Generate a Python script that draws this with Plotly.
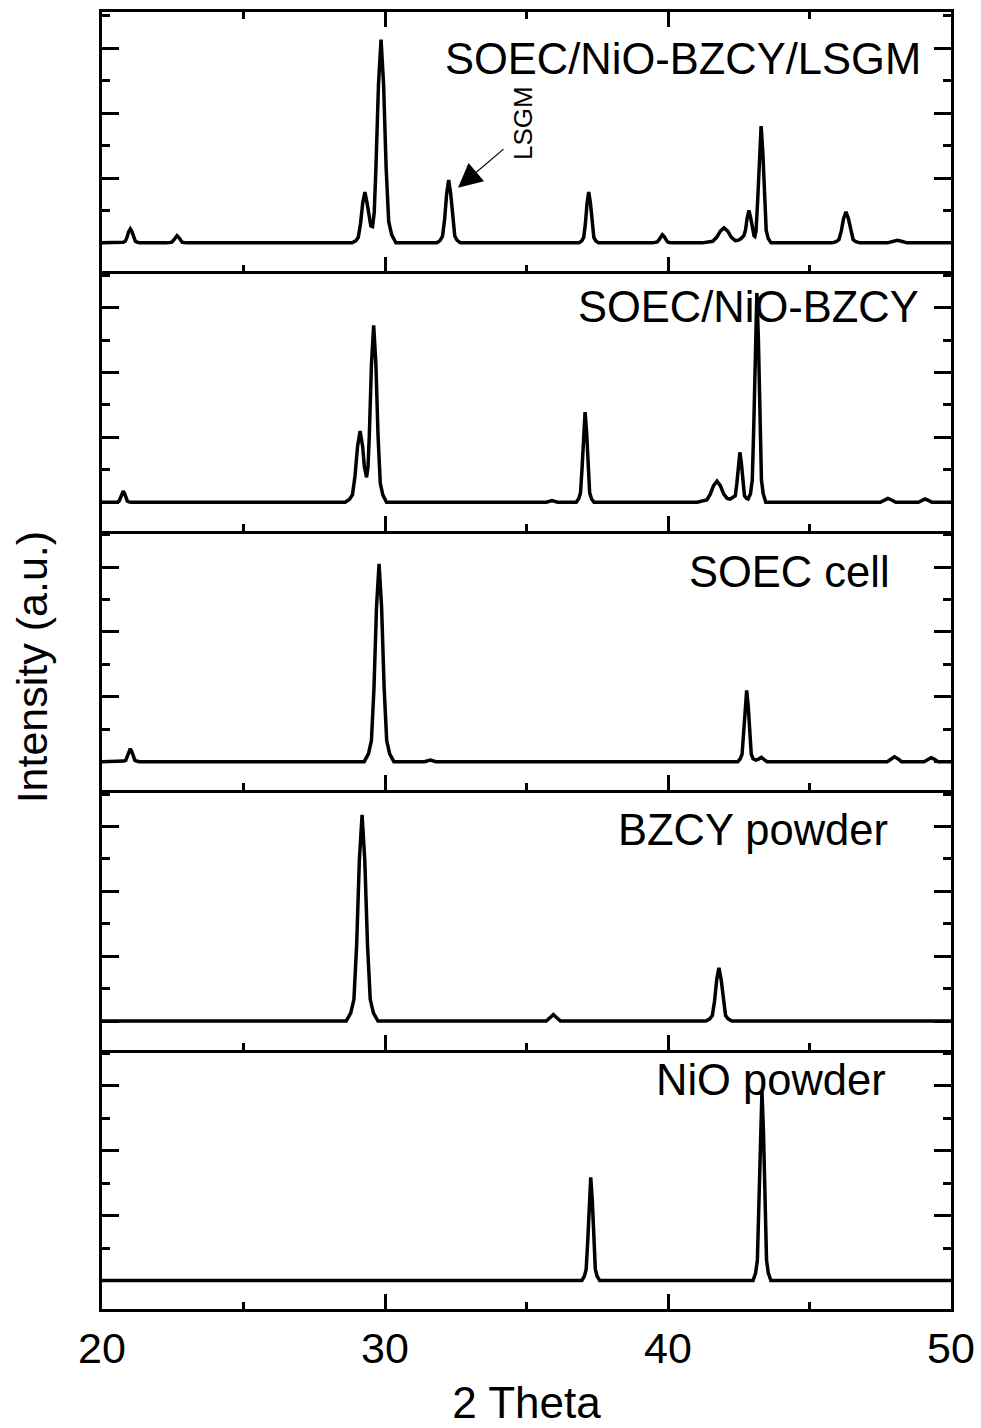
import plotly.graph_objects as go
from plotly.subplots import make_subplots

# ---------------- data (2 Theta, normalized intensity; baseline = 0) ----------------
lsgm_x = [20.0,
          20.65, 20.75, 20.82, 20.88, 20.94, 21.0, 21.06, 21.12, 21.18, 21.25, 21.35,
          22.3, 22.4, 22.47, 22.53, 22.59, 22.65, 22.71, 22.77, 22.83, 22.9, 23.0,
          28.835, 28.965, 29.056, 29.134, 29.212, 29.29, 29.368, 29.446, 29.5, 29.56,
          29.62, 29.68, 29.77, 29.86, 29.95, 30.04, 30.13, 30.235, 30.385,
          31.83, 31.95, 32.034, 32.106, 32.178, 32.25, 32.322, 32.394, 32.466, 32.55, 32.67,
          36.85, 36.95, 37.02, 37.08, 37.14, 37.2, 37.26, 37.32, 37.38, 37.45, 37.55,
          39.45, 39.55, 39.62, 39.68, 39.74, 39.8, 39.86, 39.92, 39.98, 40.05, 40.15,
          41.21, 41.43, 41.58, 41.72, 41.85, 41.98, 42.11, 42.24, 42.38, 42.47,
          42.56, 42.68, 42.74, 42.8, 42.86, 42.92, 42.98, 43.04, 43.07, 43.11, 43.17,
          43.23, 43.29, 43.35, 43.41, 43.47, 43.54, 43.64,
          45.8, 45.94, 46.038, 46.122, 46.206, 46.29, 46.374, 46.458, 46.542, 46.64, 46.78,
          47.75, 47.95, 48.1, 48.25, 48.45, 50.0]
lsgm_y = [0,
          0, 0.02, 0.05, 0.16, 0.34, 0.43, 0.34, 0.16, 0.05, 0.02, 0,
          0, 0.01, 0.02, 0.08, 0.17, 0.22, 0.17, 0.08, 0.02, 0.01, 0,
          0, 0.06, 0.17, 0.58, 1.22, 1.57, 1.22, 0.7, 0.52, 0.5,
          0.95, 2.32, 4.89, 6.27, 4.89, 2.32, 0.66, 0.25, 0,
          0, 0.08, 0.21, 0.72, 1.51, 1.94, 1.51, 0.72, 0.21, 0.08, 0,
          0, 0.06, 0.17, 0.58, 1.22, 1.57, 1.22, 0.58, 0.17, 0.06, 0,
          0, 0.01, 0.03, 0.09, 0.2, 0.25, 0.2, 0.09, 0.03, 0.01, 0,
          0, 0.02, 0.05, 0.17, 0.36, 0.46, 0.36, 0.17, 0.07, 0.08,
          0.12, 0.22, 0.4, 0.78, 1.0, 0.78, 0.42, 0.22, 0.2, 0.35, 1.33,
          2.81, 3.6, 2.81, 1.33, 0.38, 0.14, 0,
          0, 0.04, 0.1, 0.36, 0.75, 0.96, 0.75, 0.36, 0.1, 0.04, 0,
          0, 0.05, 0.08, 0.05, 0, 0]

nibzcy_x = [20.0,
            20.47, 20.55, 20.606, 20.654, 20.702, 20.75, 20.798, 20.846, 20.894, 20.95, 21.03,
            28.595, 28.745, 28.85, 28.94, 29.03, 29.12, 29.21, 29.27, 29.35,
            29.4, 29.444, 29.522, 29.6, 29.678, 29.756, 29.834, 29.925, 30.055,
            35.7, 35.9, 36.1,
            36.755, 36.845, 36.908, 36.962, 37.016, 37.07, 37.124, 37.178, 37.232, 37.295, 37.385,
            41.03, 41.23, 41.37, 41.49, 41.61, 41.73, 41.85, 41.97, 42.09, 42.2,
            42.3, 42.378, 42.432, 42.486, 42.54, 42.594, 42.648, 42.702, 42.77, 42.83,
            42.915, 42.978, 43.032, 43.086, 43.14, 43.194, 43.248, 43.302, 43.365, 43.455,
            47.5, 47.65, 47.77, 47.9, 48.05,
            48.85, 48.97, 49.08, 49.2, 49.32, 50.0]
nibzcy_y = [0,
            0, 0.01, 0.04, 0.13, 0.27, 0.34, 0.27, 0.13, 0.04, 0.01, 0,
            0, 0.09, 0.23, 0.81, 1.72, 2.2, 1.72, 1.1, 0.77,
            1.1, 2.02, 4.26, 5.46, 4.26, 2.02, 0.58, 0.22, 0,
            0, 0.05, 0,
            0, 0.11, 0.29, 1.03, 2.17, 2.78, 2.17, 1.03, 0.29, 0.11, 0,
            0, 0.03, 0.07, 0.24, 0.51, 0.65, 0.51, 0.25, 0.12, 0.1,
            0.14, 0.2, 0.58, 1.2, 1.54, 1.2, 0.58, 0.2, 0.12, 0.1,
            0.26, 0.68, 2.39, 5.03, 6.45, 5.03, 2.39, 0.68, 0.26, 0,
            0, 0.07, 0.12, 0.07, 0,
            0, 0.06, 0.1, 0.06, 0, 0]

cell_x = [20.0,
          20.685, 20.775, 20.838, 20.892, 20.946, 21.0, 21.054, 21.108, 21.162, 21.225, 21.315,
          29.265, 29.415, 29.52, 29.61, 29.7, 29.79, 29.88, 29.97, 30.06, 30.165, 30.315,
          31.4, 31.6, 31.8,
          42.465, 42.555, 42.618, 42.672, 42.726, 42.78, 42.834, 42.888, 42.942, 43.005,
          43.1, 43.2, 43.3, 43.4, 43.5,
          47.75, 47.88, 48.0, 48.12, 48.25,
          49.05, 49.18, 49.3, 49.42, 49.55, 50.0]
cell_y = [0,
          0, 0.02, 0.04, 0.15, 0.31, 0.4, 0.31, 0.15, 0.04, 0.02, 0,
          0, 0.24, 0.65, 2.26, 4.76, 6.1, 4.76, 2.26, 0.65, 0.24, 0,
          0, 0.05, 0,
          0, 0.09, 0.23, 0.81, 1.72, 2.2, 1.72, 0.81, 0.23, 0.09,
          0.05, 0.08, 0.13, 0.06, 0,
          0, 0.09, 0.15, 0.09, 0,
          0, 0.07, 0.12, 0.07, 0, 0]

bzcy_x = [20.0,
          28.63, 28.79, 28.902, 28.998, 29.094, 29.19, 29.286, 29.382, 29.478, 29.59, 29.75,
          35.7, 35.83, 35.95, 36.07, 36.2,
          41.345, 41.475, 41.566, 41.644, 41.722, 41.8, 41.878, 41.956, 42.034, 42.125, 42.255,
          50.0]
bzcy_y = [0,
          0, 0.25, 0.67, 2.35, 4.96, 6.36, 4.96, 2.35, 0.67, 0.25, 0,
          0, 0.1, 0.2, 0.1, 0,
          0, 0.07, 0.17, 0.61, 1.28, 1.64, 1.28, 0.61, 0.17, 0.07, 0,
          0]

nio_x = [20.0,
         36.955, 37.045, 37.108, 37.162, 37.216, 37.27, 37.324, 37.378, 37.432, 37.495, 37.585,
         43.005, 43.095, 43.158, 43.212, 43.266, 43.32, 43.374, 43.428, 43.482, 43.545, 43.635,
         50.0]
nio_y = [0,
         0, 0.13, 0.34, 1.18, 2.48, 3.18, 2.48, 1.18, 0.34, 0.13, 0,
         0, 0.23, 0.62, 2.17, 4.57, 5.86, 4.57, 2.17, 0.62, 0.23, 0,
         0]

series = [
    ("SOEC/NiO-BZCY/LSGM", lsgm_x, lsgm_y),
    ("SOEC/NiO-BZCY", nibzcy_x, nibzcy_y),
    ("SOEC cell", cell_x, cell_y),
    ("BZCY powder", bzcy_x, bzcy_y),
    ("NiO powder", nio_x, nio_y),
]
label_x = [49.0, 48.95, 47.9, 47.83, 47.78]
label_y = [5.66, 6.02, 5.86, 5.9, 6.17]
x_ticks = [20, 30, 40, 50]
x_minor = [25, 35, 45]

FONT = "Liberation Sans, Arial, sans-serif"

fig = make_subplots(rows=5, cols=1, shared_xaxes=True, vertical_spacing=0)

for i, (name, xs, ys) in enumerate(series, start=1):
    fig.add_trace(go.Scatter(x=xs, y=ys, mode="lines", name=name,
                             line=dict(color="black", width=3.5),
                             showlegend=False), row=i, col=1)
    fig.update_xaxes(range=[20, 50], showline=True, linewidth=2.5, linecolor="black",
                     mirror="allticks" if i == 1 else False, automargin=False,
                     ticks="inside", ticklen=15, tickwidth=2.5, tickcolor="black",
                     tickvals=x_ticks, ticktext=[str(v) for v in x_ticks],
                     minor=dict(tickvals=x_minor, ticks="inside", ticklen=7,
                                tickwidth=2.5, tickcolor="black"),
                     showgrid=False, zeroline=False, row=i, col=1)
    fig.update_yaxes(range=[-0.88, 7.12], showline=True, linewidth=2.5, linecolor="black",
                     mirror="allticks", ticks="inside", ticklen=17, tickwidth=2.5,
                     tickcolor="black", dtick=2, tick0=0, showticklabels=False,
                     automargin=False,
                     minor=dict(dtick=1, tick0=0, ticks="inside", ticklen=8,
                                tickwidth=2.5, tickcolor="black"),
                     showgrid=False, zeroline=False, row=i, col=1)
    fig.add_annotation(x=label_x[i - 1], y=label_y[i - 1], xref=f"x{i}", yref=f"y{i}",
                       text=name, showarrow=False, xanchor="right", yanchor="middle",
                       font=dict(family=FONT, size=43.5, color="black"))

fig.update_xaxes(showticklabels=True, tickfont=dict(family=FONT, size=43, color="black"),
                 title=dict(text="2 Theta", font=dict(family=FONT, size=44, color="black"),
                            standoff=16),
                 row=5, col=1)

# LSGM arrow and label
fig.add_annotation(x=32.58, y=1.7, ax=34.24, ay=2.93, xref="x1", yref="y1",
                   axref="x1", ayref="y1", text="", showarrow=True,
                   arrowhead=2, arrowsize=4, arrowwidth=1.2, arrowcolor="black")
fig.add_annotation(x=34.88, y=3.7, xref="x1", yref="y1", text="LSGM", textangle=-90,
                   showarrow=False, font=dict(family=FONT, size=26, color="black"))

# y-axis title
fig.add_annotation(x=-0.082, y=0.495, xref="paper", yref="paper",
                   text="Intensity (a.u.)", textangle=-90, showarrow=False,
                   xanchor="center", yanchor="middle",
                   font=dict(family=FONT, size=43, color="black"))

fig.update_layout(width=981, height=1428, margin=dict(l=102, r=30, t=12, b=119),
                  paper_bgcolor="white", plot_bgcolor="white",
                  font=dict(family=FONT, size=42, color="black"))

fig.write_html("out.html")
